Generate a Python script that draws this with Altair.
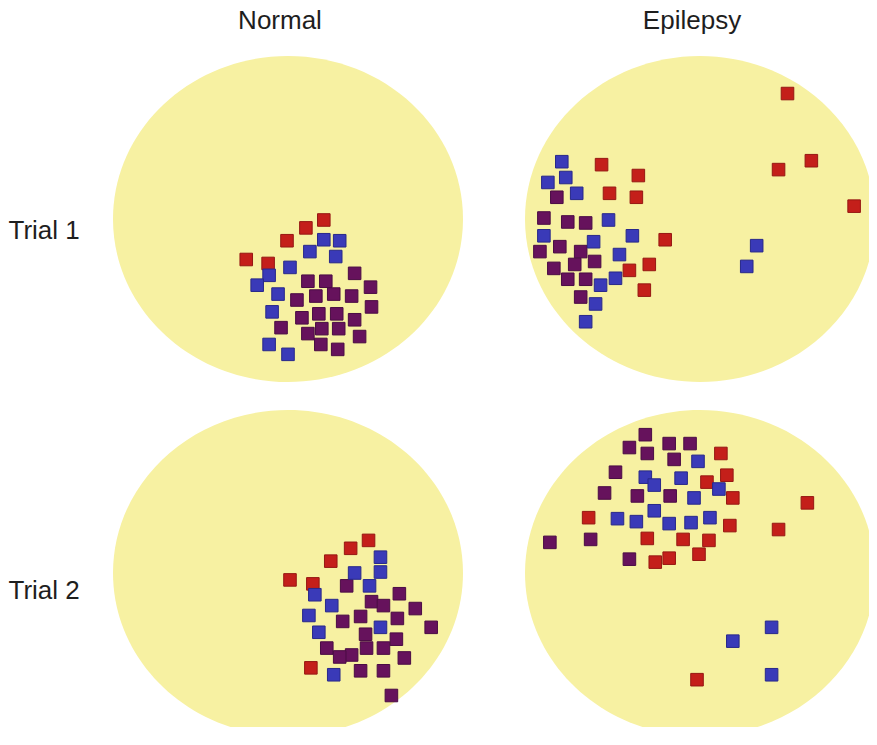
import altair as alt
import pandas as pd

# ---------------- data (positions inside the arena, arena centre = 0,0) ----------------
CONDITIONS = ["Normal", "Epilepsy"]
TRIALS = ["Trial 1", "Trial 2"]
GROUPS = ["red", "purple", "blue"]          # drawing order
GROUP_FILL = ["#c41f1a", "#66125c", "#3a3ab8"]
GROUP_EDGE = ["#961813", "#4a0c44", "#28288a"]

ARENA_X = [0]
ARENA_Y = [0]

# Normal, Trial 1
N1_RED = [(36, -1), (18, -9), (-1, -22), (-42, -41), (-20, -45)]
N1_BLUE = [(36, -21), (52, -22), (22, -33), (48, -38), (2, -49), (-19, -57),
           (-31, -67), (-10, -76), (-16, -94), (-19, -127), (0, -137)]
N1_PURPLE = [(67, -55), (20, -63), (38, -63), (83, -69), (28, -78), (46, -76),
             (64, -78), (9, -82), (84, -89), (14, -100), (31, -96), (49, -96),
             (67, -102), (-7, -110), (20, -116), (34, -111), (51, -111),
             (72, -119), (33, -127), (50, -132)]

# Epilepsy, Trial 1
E1_RED = [(88, 127), (112, 59), (79, 50), (155, 13), (-99, 55), (-62, 44),
          (-91, 26), (-64, 22), (-35, -21), (-51, -46), (-71, -52), (-56, -72)]
E1_BLUE = [(-139, 58), (-135, 42), (-153, 37), (-124, 26), (-92, -1),
           (-157, -17), (-68, -17), (-107, -23), (-81, -36), (-85, -60),
           (-100, -67), (-105, -86), (-115, -104), (57, -27), (47, -48)]
E1_PURPLE = [(-144, 22), (-157, 1), (-133, -3), (-115, -4), (-141, -28),
             (-161, -33), (-120, -33), (-106, -43), (-126, -46), (-147, -50),
             (-133, -61), (-115, -61), (-120, -79)]

# Normal, Trial 2
N2_RED = [(81, 33), (63, 25), (43, 12), (2, -7), (25, -11), (23, -96)]
N2_BLUE = [(93, 16), (67, 0), (93, 1), (82, -13), (27, -22), (44, -33),
           (21, -43), (93, -55), (31, -60), (46, -103)]
N2_PURPLE = [(59, -13), (112, -21), (84, -29), (96, -33), (128, -36), (73, -44),
             (110, -46), (55, -49), (144, -55), (78, -62), (109, -67), (39, -76),
             (79, -76), (96, -76), (64, -83), (52, -85), (117, -86), (73, -99),
             (96, -99), (104, -124)]

# Epilepsy, Trial 2
E2_RED = [(21, 121), (27, 99), (7, 92), (33, 76), (108, 71), (-112, 56),
          (30, 48), (79, 44), (-53, 35), (-17, 34), (9, 33), (-1, 19),
          (-31, 15), (-45, 11), (-3, -108)]
E2_BLUE = [(-2, 113), (-55, 97), (-46, 89), (-19, 96), (19, 85), (-6, 76),
           (-46, 63), (-83, 55), (-64, 52), (-31, 50), (-9, 51), (10, 56),
           (72, -55), (33, -69), (72, -103)]
E2_PURPLE = [(-55, 140), (-71, 127), (-31, 131), (-10, 131), (-53, 121),
             (-26, 115), (-85, 102), (-96, 81), (-63, 78), (-30, 78),
             (-151, 31), (-110, 34), (-71, 14)]

PANELS = {
    ("Normal", "Trial 1"): {"red": N1_RED, "purple": N1_PURPLE, "blue": N1_BLUE},
    ("Epilepsy", "Trial 1"): {"red": E1_RED, "purple": E1_PURPLE, "blue": E1_BLUE},
    ("Normal", "Trial 2"): {"red": N2_RED, "purple": N2_PURPLE, "blue": N2_BLUE},
    ("Epilepsy", "Trial 2"): {"red": E2_RED, "purple": E2_PURPLE, "blue": E2_BLUE},
}

# ---------------- build ----------------
W, H = 350, 326
XDOM = [-176, 176]
YDOM = [-165, 165]
ELLIPSE = "M-1,0A1,%.4f,0,1,0,1,0A1,%.4f,0,1,0,-1,0Z" % (H / W, H / W)
FONT = "Liberation Sans"
TXT = "#1e1e1e"
ROW_LABEL_Y = {"Trial 1": 174, "Trial 2": 180}


def panel(cond, trial, top, left):
    rows = []
    for g in GROUPS:
        for (x, y) in PANELS[(cond, trial)][g]:
            rows.append({"x": x, "y": y, "group": g})
    df = pd.DataFrame(rows)
    arena = pd.DataFrame({"x": ARENA_X, "y": ARENA_Y})

    xs = alt.Scale(domain=XDOM, nice=False, zero=False)
    ys = alt.Scale(domain=YDOM, nice=False, zero=False)
    if left:
        yaxis = alt.Axis(title=trial, labels=False, ticks=False, domain=False,
                         grid=False, titleAngle=0, titleAlign="left",
                         titleBaseline="middle", titleX=-105,
                         titleY=ROW_LABEL_Y[trial],
                         titleFontSize=26, titleFontWeight="normal",
                         titleFont=FONT, titleColor=TXT)
    else:
        yaxis = None

    bg = alt.Chart(arena).mark_point(
        shape=ELLIPSE, size=W * W, filled=True, fill="#f7f1a2",
        opacity=1, strokeWidth=0
    ).encode(
        x=alt.X("x:Q", scale=xs, axis=None),
        y=alt.Y("y:Q", scale=ys, axis=yaxis),
    )
    pts = alt.Chart(df).mark_square(size=158, opacity=1, filled=True,
                                    strokeWidth=1).encode(
        x=alt.X("x:Q", scale=xs, axis=None),
        y=alt.Y("y:Q", scale=ys, axis=yaxis),
        fill=alt.Fill("group:N", scale=alt.Scale(domain=GROUPS, range=GROUP_FILL), legend=None),
        stroke=alt.Stroke("group:N", scale=alt.Scale(domain=GROUPS, range=GROUP_EDGE), legend=None),
    )
    props = dict(width=W, height=H)
    if top:
        props["title"] = alt.TitleParams(cond, fontSize=26, fontWeight="normal",
                                         font=FONT, color=TXT, anchor="middle",
                                         dx=-8, offset=22)
    return alt.layer(bg, pts).properties(**props)


row1 = alt.hconcat(panel("Normal", "Trial 1", True, True),
                   panel("Epilepsy", "Trial 1", True, False), spacing=62)
row2 = alt.hconcat(panel("Normal", "Trial 2", False, True),
                   panel("Epilepsy", "Trial 2", False, False), spacing=62)

chart = alt.vconcat(
    row1, row2, spacing=28,
    padding={"left": 0, "top": 0, "right": -6, "bottom": -9},
    background="white",
).configure_view(stroke=None)

chart.save("out.html", embed_options={"renderer": "svg", "actions": False})
